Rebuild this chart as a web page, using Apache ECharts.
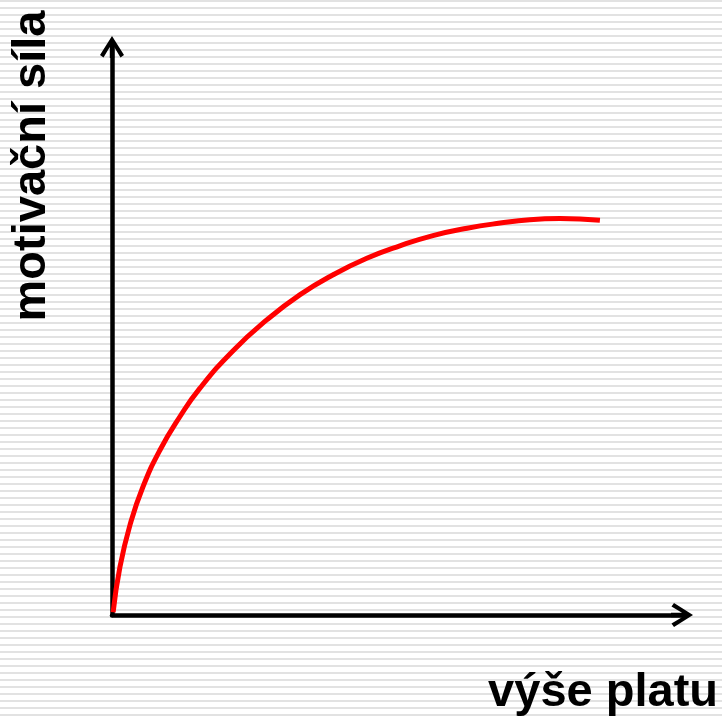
<!DOCTYPE html>
<html>
<head>
<meta charset="utf-8">
<script src="https://cdn.jsdelivr.net/npm/echarts@6/dist/echarts.min.js"></script>
<style>
  html, body { margin: 0; padding: 0; }
  body {
    background: repeating-linear-gradient(to bottom, #e2e2e2 0px, #e2e2e2 2px, #ffffff 2px, #ffffff 7px);
  }
  #chart { width: 722px; height: 718px; }
</style>
</head>
<body>
<div id="chart"></div>
<script>
// body osy x (výše platu) a y (motivační síla)
const plat = [0.2, 1.4, 3.2, 5.4, 8.4, 11.9, 15.4, 21.2, 27.2, 33.0, 38.8, 44.7, 50.5, 56.3, 62.3, 68.1, 73.3, 78.6, 85.6];
const motivace = [0.5, 8.5, 16.0, 22.5, 29.0, 34.9, 39.9, 46.5, 52.0, 56.4, 59.9, 62.8, 65.0, 66.8, 68.1, 69.0, 69.6, 69.8, 69.5];

const xName = "výše platu";
const yName = "motivační síla";

// otevřená šipka (chevron) se stonkem
const arrow = "path://M12 0 L24 19 L20.5 21.5 L14.2 11 L14.2 22 L9.8 22 L9.8 11 L3.5 21.5 L0 19 Z";

const option = {
  animation: false,
  grid: { left: 112, right: 40, top: 47, bottom: 103 },
  xAxis: {
    type: "value",
    min: 0,
    max: 100,
    name: xName,
    nameLocation: "end",
    nameGap: 36,
    nameTextStyle: {
      color: "#000",
      fontSize: 47,
      fontWeight: "bold",
      fontFamily: "Liberation Sans, Arial, sans-serif",
      align: "right",
      verticalAlign: "top",
      padding: [55, 0, 0, 0]
    },
    axisLine: {
      lineStyle: { color: "#000", width: 4.5 },
      symbol: ["none", arrow],
      symbolSize: [24, 22]
    },
    axisTick: { show: false },
    axisLabel: { show: false },
    splitLine: { show: false }
  },
  yAxis: {
    type: "value",
    min: 0,
    max: 100,
    name: yName,
    nameLocation: "middle",
    nameRotate: 90,
    nameGap: 56,
    nameTextStyle: {
      color: "#000",
      fontSize: 47,
      fontWeight: "bold",
      fontFamily: "Liberation Sans, Arial, sans-serif",
      padding: [0, 0, 0, 330]
    },
    axisLine: {
      lineStyle: { color: "#000", width: 4.5 },
      symbol: ["none", arrow],
      symbolSize: [24, 22]
    },
    axisTick: { show: false },
    axisLabel: { show: false },
    splitLine: { show: false }
  },
  series: [
    {
      type: "line",
      data: plat.map((x, i) => [x, motivace[i]]),
      smooth: 0.5,
      showSymbol: false,
      lineStyle: { color: "#ff0000", width: 5 },
      z: 1
    }
  ]
};

const chartObj = echarts.init(document.getElementById("chart"));
chartObj.setOption(option);
</script>
</body>
</html>
